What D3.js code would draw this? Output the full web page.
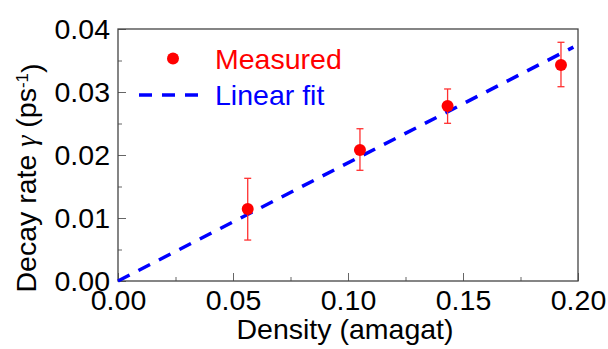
<!DOCTYPE html>
<html>
<head>
<meta charset="utf-8">
<script src="https://cdn.jsdelivr.net/npm/d3@7"></script>
<style>
  body { margin: 0; background: #fff; }
  text { font-family: "Liberation Sans", Arial, sans-serif; }
</style>
</head>
<body>
<div id="chart"></div>
<script>
var density = [0.0564, 0.1052, 0.1433, 0.1926];
var decay = [0.01143, 0.0208, 0.02778, 0.03429];
var errLow = [0.0065, 0.01757, 0.02503, 0.03084];
var errHigh = [0.0163, 0.02417, 0.03048, 0.03789];

// linear fit through origin
var fitX = [0, 0.198];
var fitSlope = 0.1875;

var xTicks = [0, 0.05, 0.10, 0.15, 0.20];
var xMinor = [0.025, 0.075, 0.125, 0.175];
var yTicks = [0, 0.01, 0.02, 0.03, 0.04];
var yMinor = [0.005, 0.015, 0.025, 0.035];

var margin = {top: 29, right: 30, bottom: 68, left: 118};
var width = 608 - margin.left - margin.right;
var height = 349 - margin.top - margin.bottom;
var fontSize = "28.5px";

var svg = d3.select("#chart")
  .append("svg")
  .attr("width", 608)
  .attr("height", 349)
  .append("g")
  .attr("transform", "translate(" + margin.left + "," + margin.top + ")");

var x = d3.scaleLinear().domain([0, 0.2]).range([0, width]);
var y = d3.scaleLinear().domain([0, 0.04]).range([height, 0]);

// X axis (ticks pointing inward)
var xAxis = svg.append("g")
  .attr("transform", "translate(0," + height + ")")
  .call(d3.axisBottom(x).tickValues(xTicks).tickFormat(d3.format(".2f"))
    .tickSizeInner(-8).tickSizeOuter(0).tickPadding(9));
xAxis.select(".domain").remove();
xAxis.selectAll("line").attr("stroke", "#666");
xAxis.selectAll("text").style("font-size", fontSize).attr("fill", "#000");

svg.append("g")
  .attr("transform", "translate(0," + height + ")")
  .call(d3.axisBottom(x).tickValues(xMinor).tickFormat("").tickSizeInner(-4).tickSizeOuter(0))
  .call(function(g) { g.select(".domain").remove(); g.selectAll("line").attr("stroke", "#666"); });

// Y axis
var yAxis = svg.append("g")
  .call(d3.axisLeft(y).tickValues(yTicks).tickFormat(d3.format(".2f"))
    .tickSizeInner(-8).tickSizeOuter(0).tickPadding(8));
yAxis.select(".domain").remove();
yAxis.selectAll("line").attr("stroke", "#666");
yAxis.selectAll("text").style("font-size", fontSize).attr("fill", "#000");

svg.append("g")
  .call(d3.axisLeft(y).tickValues(yMinor).tickFormat("").tickSizeInner(-4).tickSizeOuter(0))
  .call(function(g) { g.select(".domain").remove(); g.selectAll("line").attr("stroke", "#666"); });

// frame
svg.append("rect")
  .attr("width", width)
  .attr("height", height)
  .attr("fill", "none")
  .attr("stroke", "#444")
  .attr("stroke-width", 1.3);

// axis titles
svg.append("text")
  .attr("x", width / 2 - 3)
  .attr("y", height + 58)
  .attr("text-anchor", "middle")
  .style("font-size", fontSize)
  .text("Density (amagat)");

var yTitle = svg.append("text")
  .attr("transform", "translate(" + (36 - margin.left) + "," + (178 - margin.top) + ") rotate(-90)")
  .attr("text-anchor", "middle")
  .style("font-size", fontSize);
yTitle.append("tspan").text("Decay rate ");
yTitle.append("tspan").style("font-family", "'Liberation Serif', serif").style("font-style", "italic").text("γ");
yTitle.append("tspan").text(" (ps");
yTitle.append("tspan").attr("dy", "-0.45em").style("font-size", "17px").text("-1");
yTitle.append("tspan").attr("dy", "0.45em").text(")");

// fit line
svg.append("path")
  .datum(fitX)
  .attr("fill", "none")
  .attr("stroke", "#0000ff")
  .attr("stroke-width", 3.5)
  .attr("stroke-dasharray", "13,10")
  .attr("d", d3.line()
    .x(function(d) { return x(d); })
    .y(function(d) { return y(d * fitSlope); }));

// error bars
var pts = density.map(function(d, i) {
  return {x: d, y: decay[i], lo: errLow[i], hi: errHigh[i]};
});

var bars = svg.append("g").attr("stroke", "#ff3030").attr("stroke-width", 1.3);
bars.selectAll(".stem").data(pts).enter().append("line")
  .attr("x1", function(d) { return x(d.x); })
  .attr("x2", function(d) { return x(d.x); })
  .attr("y1", function(d) { return y(d.lo); })
  .attr("y2", function(d) { return y(d.hi); });
["lo", "hi"].forEach(function(k) {
  bars.selectAll(".cap" + k).data(pts).enter().append("line")
    .attr("x1", function(d) { return x(d.x) - 3.5; })
    .attr("x2", function(d) { return x(d.x) + 3.5; })
    .attr("y1", function(d) { return y(d[k]); })
    .attr("y2", function(d) { return y(d[k]); });
});

svg.selectAll(".pt").data(pts).enter().append("circle")
  .attr("cx", function(d) { return x(d.x); })
  .attr("cy", function(d) { return y(d.y); })
  .attr("r", 6)
  .attr("fill", "#ff0000");

// legend
svg.append("circle").attr("cx", 173 - margin.left).attr("cy", 58.5 - margin.top).attr("r", 6).attr("fill", "#ff0000");
svg.append("text").attr("x", 215 - margin.left).attr("y", 68.5 - margin.top)
  .style("font-size", fontSize).attr("fill", "#ff0000").text("Measured");
svg.append("line")
  .attr("x1", 139 - margin.left).attr("x2", 198 - margin.left)
  .attr("y1", 95 - margin.top).attr("y2", 95 - margin.top)
  .attr("stroke", "#0000ff").attr("stroke-width", 3.5).attr("stroke-dasharray", "13,10");
svg.append("text").attr("x", 215 - margin.left).attr("y", 104.5 - margin.top)
  .style("font-size", fontSize).attr("fill", "#0000ff").text("Linear fit");
</script>
</body>
</html>
